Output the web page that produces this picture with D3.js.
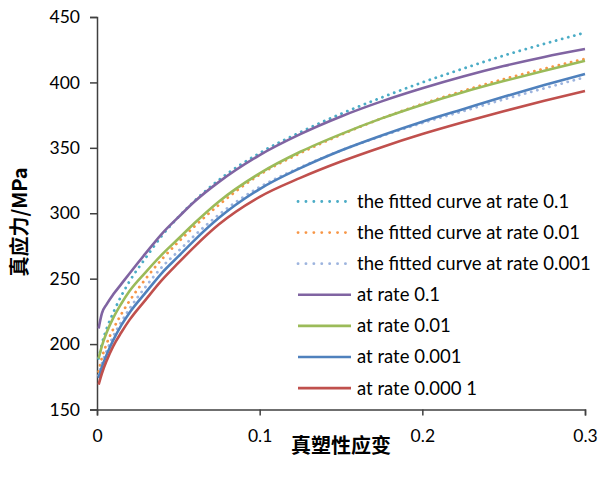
<!DOCTYPE html>
<html>
<head>
<meta charset="utf-8">
<script src="https://d3js.org/d3.v7.min.js"></script>
<style>
  body { margin: 0; background: #fff; }
  text { font-family: Lato, "Open Sans", sans-serif; fill: #000; }
  .cjk { font-family: "Noto Sans CJK SC", sans-serif; font-weight: bold; }
</style>
</head>
<body>
<div id="chart"></div>
<script>
// strain values shared by every series
var strain = [0.001, 0.003, 0.006, 0.01, 0.015, 0.02, 0.03, 0.04, 0.05, 0.06, 0.075,
              0.1, 0.125, 0.15, 0.175, 0.2, 0.225, 0.25, 0.275, 0.3];

// true stress (MPa)
var fit01    = [189, 200, 212, 224, 237, 248, 266, 283, 297, 309.5, 325.5, 346, 362, 376, 388.5, 400, 410.5, 420.5, 429.5, 438];
var fit001   = [179, 189.5, 200.5, 211.5, 223, 233, 250, 265, 278, 290, 306.5, 329.5, 346, 360, 372.5, 383.5, 393.5, 402.5, 410.5, 418];
var fit0001  = [176, 185, 195, 206, 217, 227, 244, 259, 271, 283, 299, 320, 335, 348, 359, 369, 378, 387, 395.5, 404];
var rate01   = [212, 223.5, 230.5, 238, 246, 254, 269.5, 284.5, 297, 309, 324, 344.5, 360.5, 374, 385.5, 395.5, 404.5, 412.5, 419.5, 425.5];
var rate001  = [189, 198.5, 209, 220, 231, 240.5, 255, 268.5, 280.5, 292.5, 309, 330.5, 347, 360.5, 372.5, 383, 392.5, 401, 409, 416.5];
var rate0001 = [174, 182.5, 192, 203, 214.5, 224, 239.5, 254.5, 267, 279.5, 296.5, 318.5, 334.5, 348, 359.5, 370, 379.5, 389, 398, 406.5];
var rate00001 = [169, 177.5, 187.5, 198.5, 209, 218.5, 234, 249, 262, 274.5, 291.5, 312.5, 327, 339.5, 350.5, 360.5, 369.5, 378, 386, 393.5];

var xTicks = [0, 0.1, 0.2, 0.3];
var yTicks = [150, 200, 250, 300, 350, 400, 450];

var series = [
  {name: "the fitted curve at rate 0.1",   values: fit01,    color: "#4BACC6", dotted: true},
  {name: "the fitted curve at rate 0.01",  values: fit001,   color: "#F79646", dotted: true},
  {name: "the fitted curve at rate 0.001", values: fit0001,  color: "#9DB4DE", dotted: true},
  {name: "at rate 0.1",     values: rate01,    color: "#8064A2", dotted: false},
  {name: "at rate 0.01",    values: rate001,   color: "#9BBB59", dotted: false},
  {name: "at rate 0.001",   values: rate0001,  color: "#4F81BD", dotted: false},
  {name: "at rate 0.000 1", values: rate00001, color: "#C0504D", dotted: false}
];

var W = 599, H = 479;
var svg = d3.select("#chart").append("svg").attr("width", W).attr("height", H);

var x = d3.scaleLinear().domain([0, 0.3]).range([97, 585]);
var y = d3.scaleLinear().domain([150, 450]).range([409.5, 17]);

var axisColor = "#404040";

// y axis
var yAxis = svg.append("g")
  .attr("transform", "translate(97,0)")
  .call(d3.axisLeft(y).tickValues(yTicks).tickSize(7).tickPadding(10).tickFormat(d3.format("d")));
// x axis
var xAxis = svg.append("g")
  .attr("transform", "translate(0,409.5)")
  .call(d3.axisBottom(x).tickValues(xTicks).tickSize(6).tickPadding(14)
        .tickFormat(function(d) { return d === 0 ? "0" : d3.format(".1f")(d); }));

[yAxis, xAxis].forEach(function(a) {
  a.select(".domain").attr("stroke", axisColor).attr("stroke-width", 1.5);
  a.selectAll(".tick line").attr("stroke", axisColor).attr("stroke-width", 1.5);
  a.selectAll(".tick text").style("font-size", "17.5px").attr("fill", "#000");
});

// curves
var line = d3.line()
  .x(function(d) { return x(d[0]); })
  .y(function(d) { return y(d[1]); })
  .curve(d3.curveMonotoneX);

series.forEach(function(s) {
  var pts = strain.map(function(e, i) { return [e, s.values[i]]; });
  var p = svg.append("path")
    .attr("d", line(pts))
    .attr("fill", "none")
    .attr("stroke", s.color)
    .attr("stroke-width", 2.6);
  if (s.dotted) {
    p.attr("stroke-dasharray", "0.1,6.2").attr("stroke-linecap", "round").attr("stroke-width", 2.8);
  }
});

// legend
var legend = svg.append("g");
series.forEach(function(s, i) {
  var cy = 201.5 + i * 31.1;
  var l = legend.append("line")
    .attr("x1", 298).attr("x2", s.dotted ? 346 : 351)
    .attr("y1", cy).attr("y2", cy)
    .attr("stroke", s.color).attr("stroke-width", 2.6);
  if (s.dotted) l.attr("stroke-dasharray", "0.1,7.8").attr("stroke-linecap", "round").attr("stroke-width", 2.8);
  legend.append("text")
    .attr("x", 357).attr("y", cy)
    .attr("dy", "0.35em")
    .style("font-size", "18.5px")
    .text(s.name);
});

// axis titles
svg.append("text")
  .attr("class", "cjk")
  .attr("x", 341).attr("y", 446).attr("dy", "0.35em")
  .attr("text-anchor", "middle")
  .style("font-size", "20px")
  .text("真塑性应变");

svg.append("text")
  .attr("class", "cjk")
  .attr("transform", "translate(20,222) rotate(-90)")
  .attr("dy", "0.35em")
  .attr("text-anchor", "middle")
  .style("font-size", "20px")
  .text("真应力/MPa");
</script>
</body>
</html>
